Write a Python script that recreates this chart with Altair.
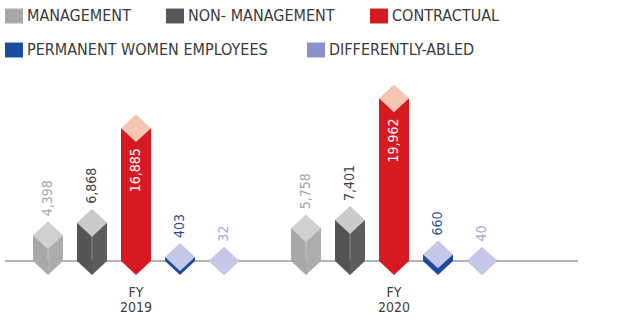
import altair as alt
import pandas as pd

# ---- data ----
years = ["FY 2019", "FY 2020"]
series = ["MANAGEMENT", "NON- MANAGEMENT", "CONTRACTUAL",
          "PERMANENT WOMEN EMPLOYEES", "DIFFERENTLY-ABLED"]
values_2019 = [4398, 6868, 16885, 403, 32]
values_2020 = [5758, 7401, 19962, 660, 40]

# ---- styling ----
legend_colors = ["#a7a7a9", "#58585a", "#d71a21", "#1c4a9c", "#8a91c8"]
body_colors = ["#a8a8aa", "#545456", "#d71a21", "#1c4a9c", "#9fa2d4"]
top_colors = ["#d0d0d1", "#cbcbcc", "#f6c6b5", "#c6c8e7", "#c6c8e7"]
label_colors = ["#a6a6a8", "#3f3f41", "#ffffff", "#2d4d9c", "#a3a6d6"]
legend_x = [5, 166, 370, 5, 307]
legend_y = [7, 7, 7, 41, 41]
FONT = "Liberation Sans Narrow, DejaVu Sans Condensed, Roboto, sans-serif"

rows = []
for yr, vals in zip(years, [values_2019, values_2020]):
    for s, v in zip(series, vals):
        rows.append({"year": yr, "series": s, "value": v, "zero": 0,
                     "label": f"{v:,}"})
df = pd.DataFrame(rows)

x_enc = alt.X("year:N", axis=None,
              scale=alt.Scale(domain=years, range=[7, 523],
                              paddingInner=0, paddingOuter=0))
xo_enc = alt.XOffset("series:N",
                     scale=alt.Scale(domain=series, paddingInner=0,
                                     paddingOuter=0.432))
y_scale = alt.Scale(type="linear", domain=[0, 700, 7400, 20000],
                    range=[261, 254, 220, 98], zero=False, nice=False)
y_enc = alt.Y("value:Q", axis=None, scale=y_scale)
y0_enc = alt.Y("zero:Q", axis=None, scale=y_scale)


def col(rng, legend=None):
    return alt.Color("series:N", scale=alt.Scale(domain=series, range=rng),
                     legend=legend)


base = alt.Chart(df)

rule = base.transform_filter(alt.datum.series == "CONTRACTUAL").mark_rule(
    color="#b3b3b3", strokeWidth=2).encode(
    x=alt.value(5), x2=alt.value(578), y=y0_enc)

legend_layers = []
for i, s in enumerate(series):
    lg = alt.Legend(
        title=None, orient="none", legendX=legend_x[i], legendY=legend_y[i],
        labelFont=FONT, labelFontSize=16, labelColor="#3a3a3c",
        labelLimit=500, labelOffset=4,
        symbolType="M -1 -0.83 H 1 V 0.83 H -1 Z",
        symbolSize=324, symbolStrokeWidth=0, symbolOpacity=1)
    legend_layers.append(
        base.transform_filter(alt.datum.series == s).mark_bar(
            width=30, opacity=0).encode(
            x=x_enc, xOffset=xo_enc, y=y_enc, y2="zero:Q",
            color=alt.Color("series:N",
                            scale=alt.Scale(domain=[s],
                                            range=[legend_colors[i]]),
                            legend=lg)))

body = base.mark_bar(width=30).encode(
    x=x_enc, xOffset=xo_enc, y=y_enc, y2="zero:Q", color=col(body_colors))

shade = alt.LinearGradient(
    gradient="linear", x1=0, x2=1, y1=0, y2=0,
    stops=[alt.GradientStop(offset=0, color="rgba(255,255,255,0)"),
           alt.GradientStop(offset=0.48, color="rgba(255,255,255,0)"),
           alt.GradientStop(offset=0.48, color="rgba(255,255,255,0.18)"),
           alt.GradientStop(offset=0.53, color="rgba(255,255,255,0.18)"),
           alt.GradientStop(offset=0.53, color="rgba(255,255,255,0.05)"),
           alt.GradientStop(offset=1, color="rgba(255,255,255,0.05)")])
right_face = base.transform_filter(
    alt.FieldOneOfPredicate(field="series", oneOf=series[:2])
).mark_bar(width=30, fill=shade).encode(
    x=x_enc, xOffset=xo_enc, y=y_enc, y2="zero:Q")

v_left = base.mark_point(shape="M -1 -0.1 L 1 -0.1 L 1 0 L 0 0.93 L -1 0 Z",
                         size=900, filled=True, opacity=1, strokeWidth=0).encode(
    x=x_enc, xOffset=xo_enc, y=y0_enc, color=col(body_colors))
v_shade = base.transform_filter(
    alt.FieldOneOfPredicate(field="series", oneOf=series[:2])
).mark_point(shape="M 0 -0.1 L 1 -0.1 L 1 0 L 0 0.93 Z", size=900,
             filled=True, opacity=1, strokeWidth=0,
             color="rgba(255,255,255,0.05)").encode(
    x=x_enc, xOffset=xo_enc, y=y0_enc)
top = base.mark_point(shape="M -1 0 L 0 -0.93 L 1 0 L 0 0.93 Z",
                      size=900, filled=True, opacity=1, strokeWidth=0).encode(
    x=x_enc, xOffset=xo_enc, y=y_enc, color=col(top_colors))

labels_out = base.transform_filter(alt.datum.series != "CONTRACTUAL").mark_text(
    angle=270, align="left", baseline="middle", dx=19, font=FONT, fontSize=14
).encode(x=x_enc, xOffset=xo_enc, y=y_enc, text="label:N",
         color=col(label_colors))
labels_in = base.transform_filter(alt.datum.series == "CONTRACTUAL").mark_text(
    angle=270, align="right", baseline="middle", dx=-20, font=FONT,
    fontSize=14, color="#ffffff"
).encode(x=x_enc, xOffset=xo_enc, y=y_enc, text="label:N")

fy = base.transform_filter(alt.datum.series == "CONTRACTUAL").mark_text(
    lineBreak=" ", baseline="top", dy=25, lineHeight=15, font=FONT,
    fontSize=14, color="#404042").encode(
    x=x_enc, xOffset=xo_enc, y=y0_enc, text="year:N")

chart = alt.layer(rule, *legend_layers, body, right_face, v_left, v_shade,
                  top, labels_out, labels_in, fy).resolve_scale(
    color="independent").properties(
    width=617, height=327, padding=0, autosize=alt.AutoSizeParams(type="none")
).configure_view(stroke=None)

chart.save("out.html", embed_options={"renderer": "svg", "actions": False})
